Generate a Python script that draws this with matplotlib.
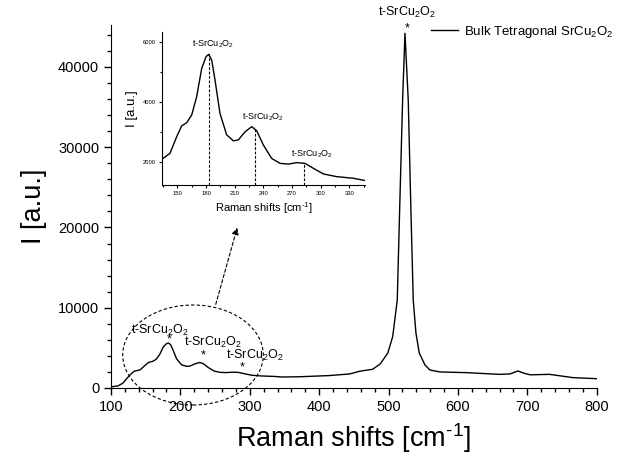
import matplotlib
matplotlib.use("Agg")
import matplotlib.pyplot as plt
from matplotlib.patches import Ellipse
from matplotlib.ticker import MultipleLocator

plt.rcParams['font.family'] = ['Liberation Sans', 'DejaVu Sans']
plt.rcParams['mathtext.fontset'] = 'custom'
plt.rcParams['mathtext.rm'] = 'Liberation Sans'
plt.rcParams['mathtext.it'] = 'Liberation Sans:italic'
plt.rcParams['mathtext.default'] = 'regular'

# Raman spectrum
shift = [100, 110, 117, 124, 130, 133.6, 142.3, 149.3, 154.5, 159.8, 165.0, 170.2,
         175.5, 180.0, 182.8, 185.9, 189.4, 194.6, 201.6, 208.6, 213.8, 220.8,
         227.8, 233.0, 240.0, 248.7, 257.4, 266.2, 274.9, 283.6, 292.3, 302.8,
         316.7, 334.2, 346.4, 372, 415, 444, 459, 477, 488, 499, 506, 512.6,
         516.4, 520.3, 523.7, 528.4, 531.9, 535.6, 539.5, 544.3, 552.5, 559.7,
         574, 613, 660, 675, 686.5, 695, 704, 732, 766, 800]
intensity = [150, 250, 600, 1300, 1850, 2080, 2280, 2840, 3200, 3310, 3565, 4180,
             5130, 5520, 5600, 5410, 4740, 3620, 2900, 2700, 2730, 3000,
             3175, 3040, 2560, 2110, 1945, 1920, 1970, 1945, 1780, 1590,
             1500, 1445, 1370, 1400, 1550, 1750, 2100, 2330, 3000, 4360, 6400, 10970,
             23430, 35900, 44200, 35900, 23430, 10970, 6850, 4360, 2870, 2240,
             2000, 1910, 1700, 1750, 2120, 1850, 1640, 1700, 1290, 1160]

peak_label = "t-SrCu$_2$O$_2$"
legend_label = "Bulk Tetragonal SrCu$_2$O$_2$"

# main-panel annotations: (label x, label y, star x, star y)
main_labels_x = [170.6, 247, 307.5, 526.5]
main_labels_y = [7200, 5700, 4100, 46850]
star_x = [183.6, 232.6, 288.8, 526.5]
star_y = [6000, 4000, 2600, 44820]

# inset peaks
inset_peak_x = [183, 231, 283]
inset_peak_y = [5600, 3150, 1950]
inset_label_x = [187.7, 239.7, 291]
inset_label_y = [5944, 3487, 2258]

fig = plt.figure(figsize=(6.2, 4.63), dpi=100)
ax = fig.add_axes([0.179, 0.162, 0.7834, 0.784])
ax.plot(shift, intensity, color='black', lw=1.0, label=legend_label)
ax.set_xlim(100, 800)
ax.set_ylim(0, 45230)
ax.xaxis.set_major_locator(MultipleLocator(100))
ax.xaxis.set_minor_locator(MultipleLocator(20))
ax.yaxis.set_major_locator(MultipleLocator(10000))
ax.yaxis.set_minor_locator(MultipleLocator(2000))
ax.tick_params(which='major', direction='out', length=5, width=1, labelsize=10.5)
ax.tick_params(which='minor', direction='out', length=3, width=1)
for s in ['top', 'right']:
    ax.spines[s].set_visible(False)
ax.set_xlabel("Raman shifts [cm$^{\\text{-}1}$]", fontsize=19.5, labelpad=5)
ax.set_ylabel("I [a.u.]", fontsize=19.5, labelpad=8)

for lx, ly in zip(main_labels_x, main_labels_y):
    ax.text(lx, ly, peak_label, ha='center', va='center', fontsize=9)
for sx, sy in zip(star_x, star_y):
    ax.text(sx, sy, "*", ha='center', va='center', fontsize=9, clip_on=False)

ell = Ellipse((218.2, 4110), 202.6, 12460, fill=False, ls=(0, (3, 2)),
              lw=0.8, color='black', clip_on=False)
ax.add_patch(ell)
ax.annotate("", xy=(283, 20310), xytext=(249.9, 10090),
            arrowprops=dict(arrowstyle='-|>', ls=(0, (3, 2)), lw=0.8,
                            color='black', mutation_scale=10),
            annotation_clip=False)

leg = ax.legend(loc='center left', bbox_to_anchor=(0.695, 1 - 32 / 463),
                bbox_transform=fig.transFigure, frameon=False, fontsize=9.5,
                handlelength=2.05, handletextpad=0.45, borderpad=0, borderaxespad=0)

# inset
ins = fig.add_axes([0.2608, 0.6004, 0.3279, 0.3311])
ins.plot(shift, intensity, color='black', lw=1.0)
ins.set_xlim(133.6, 346.4)
ins.set_ylim(1219, 6357)
ins.xaxis.set_major_locator(MultipleLocator(30))
ins.xaxis.set_minor_locator(MultipleLocator(15))
ins.yaxis.set_major_locator(MultipleLocator(2000))
ins.yaxis.set_minor_locator(MultipleLocator(1000))
ins.tick_params(which='major', direction='out', length=2.5, width=0.8, labelsize=4.2, pad=2)
ins.tick_params(which='minor', direction='out', length=1.5, width=0.8)
for s in ['top', 'right']:
    ins.spines[s].set_visible(False)
ins.set_xlabel("Raman shifts [cm$^{\\text{-}1}$]", fontsize=8, labelpad=3)
ins.set_ylabel("I [a.u.]", fontsize=9.5, labelpad=3)
ins.vlines(inset_peak_x, 1219, inset_peak_y, colors='black', linestyles=(0, (2.5, 1.5)), lw=0.8)
for lx, ly in zip(inset_label_x, inset_label_y):
    ins.text(lx, ly, peak_label, ha='center', va='center', fontsize=6.5)

fig.savefig("out.png", dpi=100)
